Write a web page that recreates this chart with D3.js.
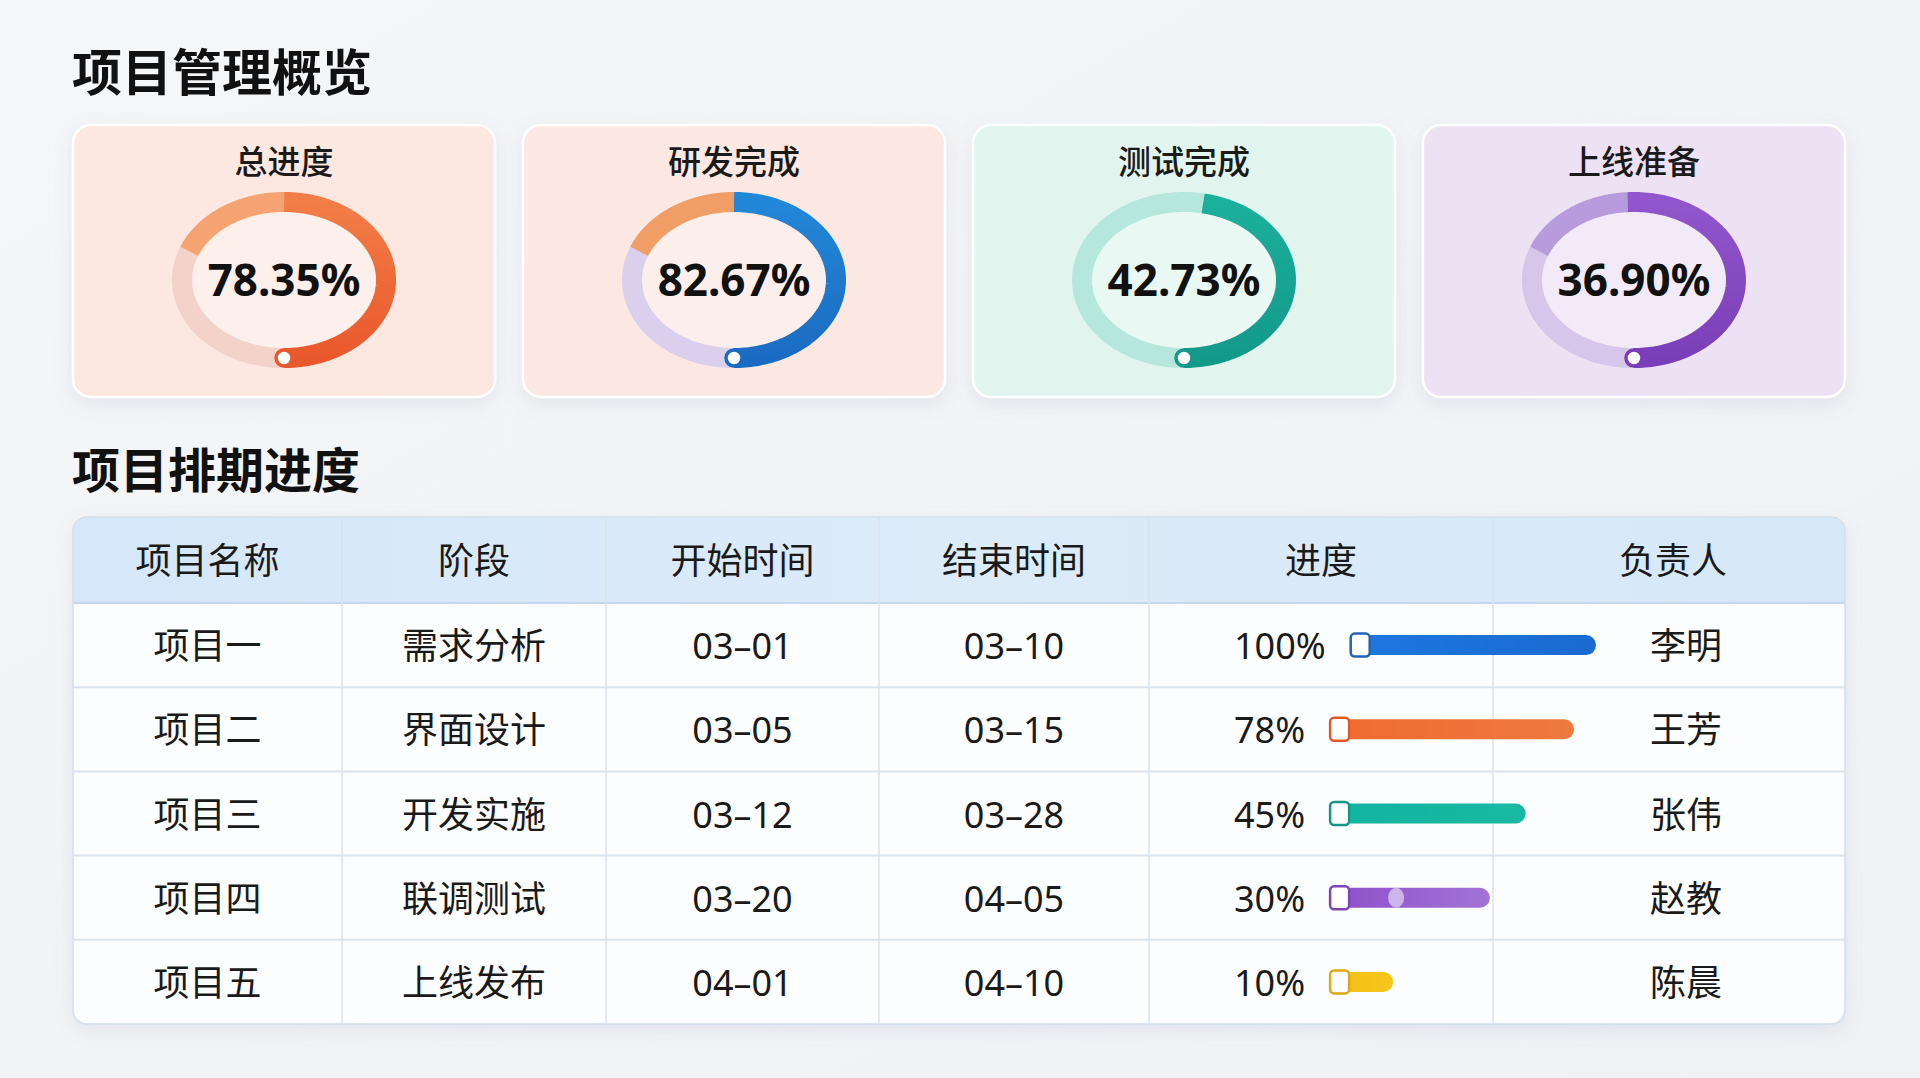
<!DOCTYPE html>
<html>
<head>
<meta charset="utf-8">
<script src="https://cdn.jsdelivr.net/npm/d3@7"></script>
<style>
  html, body { margin: 0; padding: 0; background: #f3f4f7; }
  svg { display: block; }
  text { font-family: "Noto Sans", "Noto Sans CJK SC", sans-serif; }
</style>
</head>
<body>
<svg id="chart" width="1920" height="1078"></svg>
<script>
// ---------------- data ----------------
const pageTitle = "项目管理概览";
const scheduleTitle = "项目排期进度";

const cardTitles = ["总进度", "研发完成", "测试完成", "上线准备"];
const cardValues = [78.35, 82.67, 42.73, 36.90];
// ring segments (fractions of a full turn, 0 = top, clockwise)
const ringMainStart = [0.0, 0.0, 0.03, -0.01];
const ringMainEnd = [0.5, 0.5, 0.5, 0.5];
const ringAccentStart = [0.81, 0.81, null, 0.81];

const tableHeaders = ["项目名称", "阶段", "开始时间", "结束时间", "进度", "负责人"];
const projectNames = ["项目一", "项目二", "项目三", "项目四", "项目五"];
const phases = ["需求分析", "界面设计", "开发实施", "联调测试", "上线发布"];
const startDates = ["03–01", "03–05", "03–12", "03–20", "04–01"];
const endDates = ["03–10", "03–15", "03–28", "04–05", "04–10"];
const progress = [100, 78, 45, 30, 10];
const owners = ["李明", "王芳", "张伟", "赵教", "陈晨"];

// ---------------- styles ----------------
const cardBg = ["#fce8e1", "#fbe8e2", "#e1f5ee", "#ece2f4"];
const ringDark = [["#f27d47", "#e9582c"], ["#2387d8", "#1a6cc2"], ["#1bb09b", "#13998a"], ["#9156cc", "#7a3fb8"]];
const ringAccent = ["#f4a371", "#f09d66", null, "#b79bdc"];
const ringPale = ["#f3d2ca", "#dacfec", "#b6e7dd", "#d6c6ea"];
const barColors = [["#1d78e0", "#1a6ad0"], ["#f06a30", "#ee7a3e"], ["#12b5a0", "#19b8a2"], ["#8d4fcb", "#a274d6"], ["#f4bf12", "#f6c61c"]];
const knobStroke = ["#1f64b8", "#e05a28", "#129885", "#7d45b8", "#e0a812"];

const svg = d3.select("#chart");
const defs = svg.append("defs");

// background
const bgGrad = defs.append("linearGradient").attr("id", "bg").attr("x1", 0).attr("y1", 0).attr("x2", 1).attr("y2", 1);
bgGrad.append("stop").attr("offset", 0).attr("stop-color", "#f5f6f8");
bgGrad.append("stop").attr("offset", 1).attr("stop-color", "#eff1f4");
svg.append("rect").attr("width", 1920).attr("height", 1078).attr("fill", "url(#bg)");

const shadow = defs.append("filter").attr("id", "shadow").attr("x", -0.1).attr("y", -0.1).attr("width", 1.2).attr("height", 1.3);
shadow.append("feDropShadow").attr("dx", 0).attr("dy", 6).attr("stdDeviation", 9)
  .attr("flood-color", "#8090a8").attr("flood-opacity", 0.16);

// titles
svg.append("text").attr("x", 72).attr("y", 91).attr("font-size", 50).attr("font-weight", 700)
  .attr("fill", "#111").text(pageTitle);
svg.append("text").attr("x", 72).attr("y", 488).attr("font-size", 48).attr("font-weight", 700)
  .attr("fill", "#111").text(scheduleTitle);

// ---------------- cards ----------------
const cardX = d3.scaleBand().domain(d3.range(cardTitles.length)).range([73, 1845]).paddingInner(0.062);
const cardTop = 125, cardH = 272;
const turn = d3.scaleLinear().domain([0, 1]).range([0, 2 * Math.PI]);
const ellipseLine = d3.line();

function ellipseArc(cx, cy, rx, ry, f0, f1) {
  const n = 120;
  const pts = d3.range(n + 1).map(i => {
    const a = turn(f0 + (f1 - f0) * i / n);
    return [cx + rx * Math.sin(a), cy - ry * Math.cos(a)];
  });
  return ellipseLine(pts);
}

cardTitles.forEach((title, i) => {
  const x = cardX(i), w = cardX.bandwidth();
  const cx = x + w / 2, cy = 280, rx = 102, ry = 78, sw = 20;
  const g = svg.append("g");
  g.append("rect").attr("x", x).attr("y", cardTop).attr("width", w).attr("height", cardH)
    .attr("rx", 18).attr("fill", cardBg[i]).attr("stroke", "#ffffff").attr("stroke-width", 2.5)
    .attr("filter", "url(#shadow)");
  g.append("ellipse").attr("cx", cx).attr("cy", cy).attr("rx", rx - 8).attr("ry", ry - 8)
    .attr("fill", "#ffffff").attr("opacity", 0.3);
  g.append("text").attr("x", cx).attr("y", 174).attr("text-anchor", "middle")
    .attr("font-size", 33).attr("font-weight", 500).attr("fill", "#1a1a1a").text(title);

  // pale track
  const paleEnd = ringAccentStart[i] == null ? 1 + ringMainStart[i] : ringAccentStart[i];
  g.append("path").attr("d", ellipseArc(cx, cy, rx, ry, ringMainEnd[i], paleEnd))
    .attr("fill", "none").attr("stroke", ringPale[i]).attr("stroke-width", sw);
  if (ringAccentStart[i] != null) {
    g.append("path").attr("d", ellipseArc(cx, cy, rx, ry, ringAccentStart[i], 1 + ringMainStart[i]))
      .attr("fill", "none").attr("stroke", ringAccent[i]).attr("stroke-width", sw);
  }
  const gid = "ringGrad" + i;
  const lg = defs.append("linearGradient").attr("id", gid).attr("gradientUnits", "userSpaceOnUse")
    .attr("x1", cx).attr("y1", cy - ry).attr("x2", cx).attr("y2", cy + ry);
  lg.append("stop").attr("offset", 0).attr("stop-color", ringDark[i][0]);
  lg.append("stop").attr("offset", 1).attr("stop-color", ringDark[i][1]);
  g.append("path").attr("d", ellipseArc(cx, cy, rx, ry, ringMainStart[i], ringMainEnd[i]))
    .attr("fill", "none").attr("stroke", `url(#${gid})`).attr("stroke-width", sw);
  // end marker
  const ea = turn(ringMainEnd[i]);
  g.append("circle").attr("cx", cx + rx * Math.sin(ea)).attr("cy", cy - ry * Math.cos(ea))
    .attr("r", 8).attr("fill", "#ffffff").attr("stroke", ringDark[i][1]).attr("stroke-width", 3.5);

  g.append("text").attr("x", cx).attr("y", cy + 16).attr("text-anchor", "middle")
    .attr("font-size", 44).attr("font-weight", 700).attr("fill", "#111")
    .text(cardValues[i].toFixed(2) + "%");
});

// ---------------- table ----------------
const tX = 73, tY = 517, tW = 1772, headH = 86;
const colEdges = [73, 342, 606, 879, 1149, 1493, 1845];
const rowY = d3.scaleBand().domain(d3.range(projectNames.length)).range([tY + headH, 1024]);
const rowH = rowY.bandwidth();
const tH = 1024 - tY;

defs.append("clipPath").attr("id", "tclip").append("rect")
  .attr("x", tX).attr("y", tY).attr("width", tW).attr("height", tH).attr("rx", 14);
const hGrad = defs.append("linearGradient").attr("id", "hgrad").attr("x1", 0).attr("y1", 0).attr("x2", 1).attr("y2", 0);
hGrad.append("stop").attr("offset", 0).attr("stop-color", "#d5e7f8");
hGrad.append("stop").attr("offset", 0.5).attr("stop-color", "#dcebf8");
hGrad.append("stop").attr("offset", 1).attr("stop-color", "#d6e8f7");

svg.append("rect").attr("x", tX).attr("y", tY).attr("width", tW).attr("height", tH).attr("rx", 14)
  .attr("fill", "#fcfdfe").attr("filter", "url(#shadow)");
const tg = svg.append("g").attr("clip-path", "url(#tclip)");
tg.append("rect").attr("x", tX).attr("y", tY).attr("width", tW).attr("height", headH).attr("fill", "url(#hgrad)");
tg.append("line").attr("x1", tX).attr("x2", tX + tW).attr("y1", tY + headH).attr("y2", tY + headH)
  .attr("stroke", "#c3d8ec").attr("stroke-width", 2);
projectNames.forEach((p, r) => {
  if (r > 0) tg.append("line").attr("x1", tX).attr("x2", tX + tW).attr("y1", rowY(r)).attr("y2", rowY(r))
    .attr("stroke", "#dbe4ee").attr("stroke-width", 2);
});
colEdges.slice(1, -1).forEach(x => {
  tg.append("line").attr("x1", x).attr("x2", x).attr("y1", tY).attr("y2", tY + tH)
    .attr("stroke", "#d9e3ee").attr("stroke-width", 1.5);
});
svg.append("rect").attr("x", tX).attr("y", tY).attr("width", tW).attr("height", tH).attr("rx", 14)
  .attr("fill", "none").attr("stroke", "#d3dfeb").attr("stroke-width", 1.5);

const colCenter = i => (colEdges[i] + colEdges[i + 1]) / 2;
tableHeaders.forEach((h, i) => {
  svg.append("text").attr("x", colCenter(i) + (i === 5 ? 4 : 0)).attr("y", tY + headH / 2 + 14)
    .attr("text-anchor", "middle").attr("font-size", 36).attr("font-weight", 400).attr("fill", "#1a1a1a").text(h);
});

const barScale = d3.scaleLog().domain([5, 100]).range([0, 264]);
const columns = [projectNames, phases, startDates, endDates];
projectNames.forEach((p, r) => {
  const cy = rowY(r) + rowH / 2;
  columns.forEach((col, c) => {
    svg.append("text").attr("x", colCenter(c)).attr("y", cy + 14).attr("text-anchor", "middle")
      .attr("font-size", 36).attr("fill", "#1a1a1a").text(col[r]);
  });
  // progress
  const t = svg.append("text").attr("x", colEdges[4] + 85).attr("y", cy + 14)
    .attr("font-size", 36).attr("fill", "#1a1a1a").text(progress[r] + "%");
  const textEnd = colEdges[4] + 85 + t.node().getComputedTextLength();
  const barStart = textEnd + 24;
  const barEnd = colEdges[4] + 183 + barScale(progress[r]);
  const bid = "barGrad" + r;
  const bg = defs.append("linearGradient").attr("id", bid).attr("x1", 0).attr("x2", 1);
  bg.append("stop").attr("offset", 0).attr("stop-color", barColors[r][0]);
  bg.append("stop").attr("offset", 1).attr("stop-color", barColors[r][1]);
  svg.append("rect").attr("x", barStart).attr("y", cy - 10).attr("width", barEnd - barStart).attr("height", 20)
    .attr("rx", 10).attr("fill", `url(#${bid})`);
  if (r === 3) {
    svg.append("ellipse").attr("cx", barStart + 67).attr("cy", cy).attr("rx", 8).attr("ry", 10)
      .attr("fill", "#cdb4ea");
  }
  svg.append("rect").attr("x", barStart + 1).attr("y", cy - 11.5).attr("width", 19).attr("height", 23)
    .attr("rx", 4).attr("fill", "#ffffff").attr("stroke", knobStroke[r]).attr("stroke-width", 2.5);
  // owner
  svg.append("text").attr("x", 1686).attr("y", cy + 14).attr("text-anchor", "middle")
    .attr("font-size", 36).attr("fill", "#1a1a1a").text(owners[r]);
});
</script>
</body>
</html>
